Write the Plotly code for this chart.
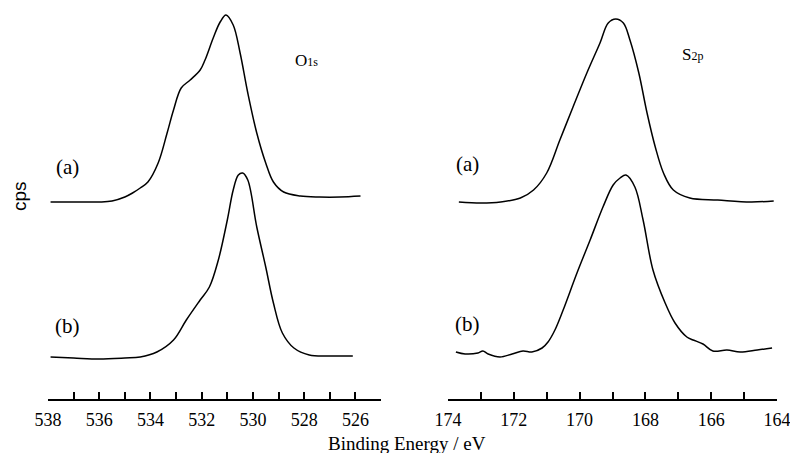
import plotly.graph_objects as go

# Binding energies (eV) and intensities (cps, arbitrary units)
o1s_a_E = [537.9, 537.0, 536.0, 535.5, 535.0, 534.7, 534.4, 534.1, 533.7, 533.35, 533.1, 532.8,
           532.45, 532.06, 531.87, 531.55, 531.28, 531.05, 530.77, 530.5, 530.2, 529.85, 529.5,
           529.2, 528.8, 528.15, 527.4, 526.6, 525.8]
o1s_a_I = [197, 197, 197, 198, 202, 206, 211, 217, 236, 266, 289, 311,
           319, 329, 339, 361, 377, 384, 374, 346, 306, 266, 236,
           217, 207, 203, 202, 202, 203]

o1s_b_E = [537.9, 537.0, 536.0, 535.0, 534.4, 533.75, 533.1, 532.6, 532.06, 531.7, 531.35, 531.0,
           530.77, 530.57, 530.4, 530.2, 529.85, 529.5, 529.2, 528.85, 528.4, 527.8, 527.0, 526.1]
o1s_b_I = [42, 41, 40, 41, 42, 47, 59, 79, 99, 112, 139, 179,
           209, 224, 226, 219, 172, 132, 96, 66, 51, 44, 43, 43]

s2p_a_E = [173.67, 173.0, 172.4, 171.8, 171.4, 171.0, 170.6, 170.2, 169.78, 169.38, 169.13, 168.9,
           168.67, 168.47, 168.2, 167.95, 167.7, 167.45, 167.15, 166.65, 165.8, 164.8, 164.1]
s2p_a_I = [197, 196, 197, 201, 209, 226, 259, 292, 326, 356, 376, 380,
           376, 359, 326, 286, 252, 226, 209, 201, 199, 197, 198]

s2p_b_E = [173.76, 173.48, 173.09, 172.94, 172.78, 172.42, 172.05, 171.72, 171.45, 171.14, 170.96,
           170.75, 170.5, 170.08, 169.68, 169.29, 168.98, 168.77, 168.59, 168.32, 168.07, 167.77,
           167.40, 167.1, 166.74, 166.55, 166.25, 165.95, 165.52, 165.12, 164.6, 164.15]
s2p_b_I = [47, 45, 46, 48, 45, 42, 45, 48, 47, 51, 57,
           69, 89, 126, 159, 192, 214, 221, 224, 212, 179, 129,
           96, 76, 62, 59, 55, 48, 49, 47, 49, 51]

o1s_ticks = [538, 536, 534, 532, 530, 528, 526]
s2p_ticks = [174, 172, 170, 168, 166, 164]

W, H = 790, 453
SERIF = "Liberation Serif"
SANS = "Liberation Sans"

fig = go.Figure()
line = dict(color="black", width=1.5)
fig.add_trace(go.Scatter(x=o1s_a_E, y=o1s_a_I, mode="lines", line=line, line_shape="spline",
                         xaxis="x", yaxis="y", showlegend=False))
fig.add_trace(go.Scatter(x=o1s_b_E, y=o1s_b_I, mode="lines", line=line, line_shape="spline",
                         xaxis="x", yaxis="y", showlegend=False))
fig.add_trace(go.Scatter(x=s2p_a_E, y=s2p_a_I, mode="lines", line=line, line_shape="spline",
                         xaxis="x2", yaxis="y2", showlegend=False))
fig.add_trace(go.Scatter(x=s2p_b_E, y=s2p_b_I, mode="lines", line=line, line_shape="spline",
                         xaxis="x2", yaxis="y2", showlegend=False))

ydom = [54 / H, 1.0]


def xaxis(domain, rng, ticks):
    return dict(
        domain=domain, range=rng, showgrid=False, zeroline=False, automargin=False,
        showline=True, linecolor="black", linewidth=1.5,
        ticks="inside", ticklen=7, tickwidth=1.5, tickcolor="black",
        tickmode="array", tickvals=ticks, ticktext=[str(t) for t in ticks],
        minor=dict(dtick=1, tick0=0, ticks="inside", ticklen=7, tickwidth=1.5, tickcolor="black"),
        tickfont=dict(family=SERIF, size=18, color="black"),
        ticklabelstandoff=4, ticklabeloverflow="allow",
    )


fig.update_layout(
    template="none",
    width=W, height=H, autosize=False,
    margin=dict(l=0, r=0, t=0, b=0, pad=0),
    paper_bgcolor="white", plot_bgcolor="white",
    xaxis=xaxis([48 / W, 381 / W], [538, 525], o1s_ticks),
    xaxis2=xaxis([448 / W, 777 / W], [174, 164], s2p_ticks),
    yaxis=dict(domain=ydom, range=[0, 399], visible=False, anchor="x", automargin=False),
    yaxis2=dict(domain=ydom, range=[0, 399], visible=False, anchor="x2", automargin=False),
)


def ann(text, xp, yp, size=17, angle=0, family=SERIF):
    fig.add_annotation(text=text, x=xp / W, y=1 - yp / H, xref="paper", yref="paper",
                       xanchor="center", yanchor="middle",
                       showarrow=False, textangle=angle,
                       font=dict(family=family, size=size, color="black"))


ann("(a)", 67, 167, size=21)
ann("(b)", 67, 326, size=21)
ann("(a)", 467, 164, size=21)
ann("(b)", 467, 324, size=21)
ann("O<span style='font-size:12px'>1s</span>", 306, 60, size=17)
ann("S<span style='font-size:12px'>2p</span>", 692, 55, size=17)
ann("cps", 19, 196, size=19, angle=-90, family=SANS)
ann("Binding Energy / eV", 407, 443, size=19)

fig.write_html("out.html")
